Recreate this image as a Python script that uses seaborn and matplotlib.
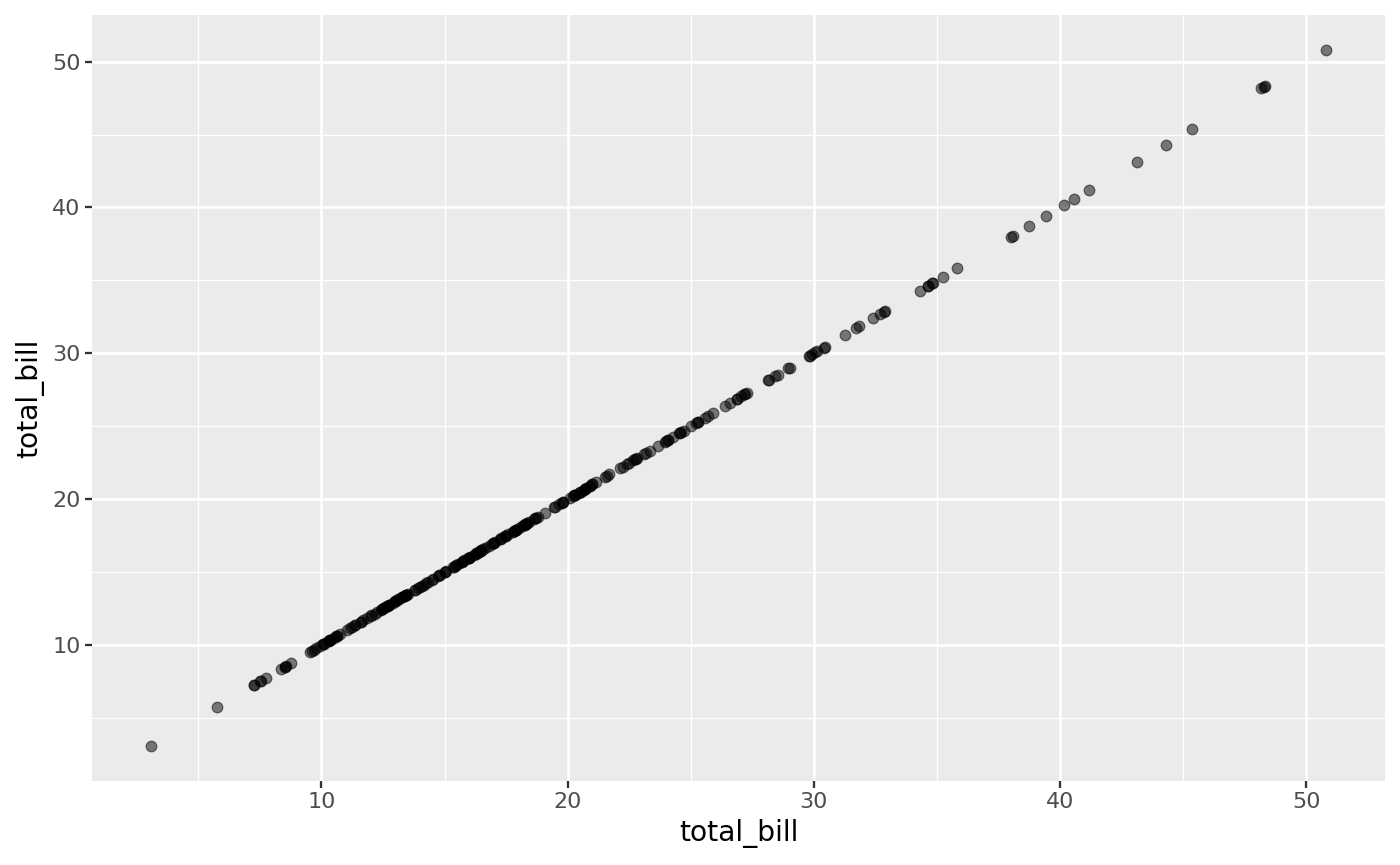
import matplotlib
matplotlib.use("Agg")
import matplotlib.pyplot as plt
import seaborn as sns
import numpy as np
import pandas as pd
from matplotlib.ticker import MultipleLocator

total_bill = [
    16.99, 10.34, 21.01, 23.68, 24.59, 25.29, 8.77, 26.88, 15.04, 14.78,
    10.27, 35.26, 15.42, 18.43, 14.83, 21.58, 10.33, 16.29, 16.97, 20.65,
    17.92, 20.29, 15.77, 39.42, 19.82, 17.81, 13.37, 12.69, 21.70, 19.65,
    9.55, 18.35, 15.06, 20.69, 17.78, 24.06, 16.31, 16.93, 18.69, 31.27,
    16.04, 17.46, 13.94, 9.68, 30.40, 18.29, 22.23, 32.40, 28.55, 18.04,
    12.54, 10.29, 34.81, 9.94, 25.56, 19.49, 38.01, 26.41, 11.24, 48.27,
    20.29, 13.81, 11.02, 18.29, 17.59, 20.08, 16.45, 3.07, 20.23, 15.01,
    12.02, 17.07, 26.86, 25.28, 14.73, 10.51, 17.92, 27.20, 22.76, 17.29,
    19.44, 16.66, 10.07, 32.68, 15.98, 34.83, 13.03, 18.28, 24.71, 21.16,
    28.97, 22.49, 5.75, 16.32, 22.75, 40.17, 27.28, 12.03, 21.01, 12.46,
    11.35, 15.38, 44.30, 22.42, 20.92, 15.36, 20.49, 25.21, 18.24, 14.31,
    14.00, 7.25, 38.07, 23.95, 25.71, 17.31, 29.93, 10.65, 12.43, 24.08,
    11.69, 13.42, 14.26, 15.95, 12.48, 29.80, 8.52, 14.52, 11.38, 22.82,
    19.08, 20.27, 11.17, 12.26, 18.26, 8.51, 10.33, 14.15, 16.00, 13.16,
    17.47, 34.30, 41.19, 27.05, 16.43, 8.35, 18.64, 11.87, 9.78, 7.51,
    14.07, 13.13, 17.26, 24.55, 19.77, 29.85, 48.17, 25.00, 13.39, 16.49,
    21.50, 12.66, 16.21, 13.81, 17.51, 24.52, 20.76, 31.71, 10.59, 10.63,
    50.81, 15.81, 7.25, 31.85, 16.82, 32.90, 17.89, 14.48, 9.60, 34.63,
    34.65, 23.33, 45.35, 23.17, 40.55, 20.69, 20.90, 30.46, 18.15, 23.10,
    15.69, 19.81, 28.44, 15.48, 16.58, 7.56, 10.34, 43.11, 13.00, 13.51,
    18.71, 12.74, 13.00, 16.40, 20.53, 16.47, 26.59, 38.73, 24.27, 12.76,
    30.06, 25.89, 48.33, 13.27, 28.17, 12.90, 28.15, 11.59, 7.74, 30.14,
    12.16, 13.42, 8.58, 15.98, 13.42, 16.27, 10.09, 20.45, 13.28, 22.12,
    24.01, 15.69, 11.61, 10.77, 15.53, 10.07, 12.60, 32.83, 35.83, 29.03,
    27.18, 22.67, 17.82, 18.78,
]
major_ticks = [10, 20, 30, 40, 50]
tick_labels = ["10", "20", "30", "40", "50"]

df = pd.DataFrame({"total_bill": total_bill})

sns.set_theme(style="white")
plt.rcParams["font.family"] = ["DejaVu Sans"]

fig = plt.figure(figsize=(1400 / 150, 865 / 150), dpi=150)
ax = fig.add_axes([92 / 1400, 1 - 781 / 865, (1385 - 92) / 1400, (781 - 15) / 865])
ax.set_facecolor("#EBEBEB")

sns.scatterplot(data=df, x="total_bill", y="total_bill", ax=ax,
                color="black", alpha=0.5, s=26, edgecolor="black", linewidth=0.6,
                zorder=3)

lo, hi = min(total_bill), max(total_bill)
pad = (hi - lo) * 0.05
ax.set_xlim(lo - pad, hi + pad)
ax.set_ylim(lo - pad, hi + pad)

ax.set_xticks(major_ticks)
ax.set_xticklabels(tick_labels)
ax.set_yticks(major_ticks)
ax.set_yticklabels(tick_labels)
ax.xaxis.set_minor_locator(MultipleLocator(5))
ax.yaxis.set_minor_locator(MultipleLocator(5))

ax.grid(which="major", color="white", linewidth=1.2, zorder=0)
ax.grid(which="minor", color="white", linewidth=0.6, zorder=0)
ax.set_axisbelow(True)

for sp in ax.spines.values():
    sp.set_visible(False)

ax.tick_params(axis="both", which="major", length=3.4, width=1.1, color="#333333",
               labelsize=10.7, labelcolor="#4D4D4D", pad=2, direction="out",
               bottom=True, left=True)
ax.tick_params(axis="both", which="minor", length=0)

ax.set_xlabel("total_bill", fontsize=13.5, color="black", labelpad=3)
ax.set_ylabel("total_bill", fontsize=13.5, color="black", labelpad=4)

fig.savefig("out.png", dpi=150, facecolor="white")
